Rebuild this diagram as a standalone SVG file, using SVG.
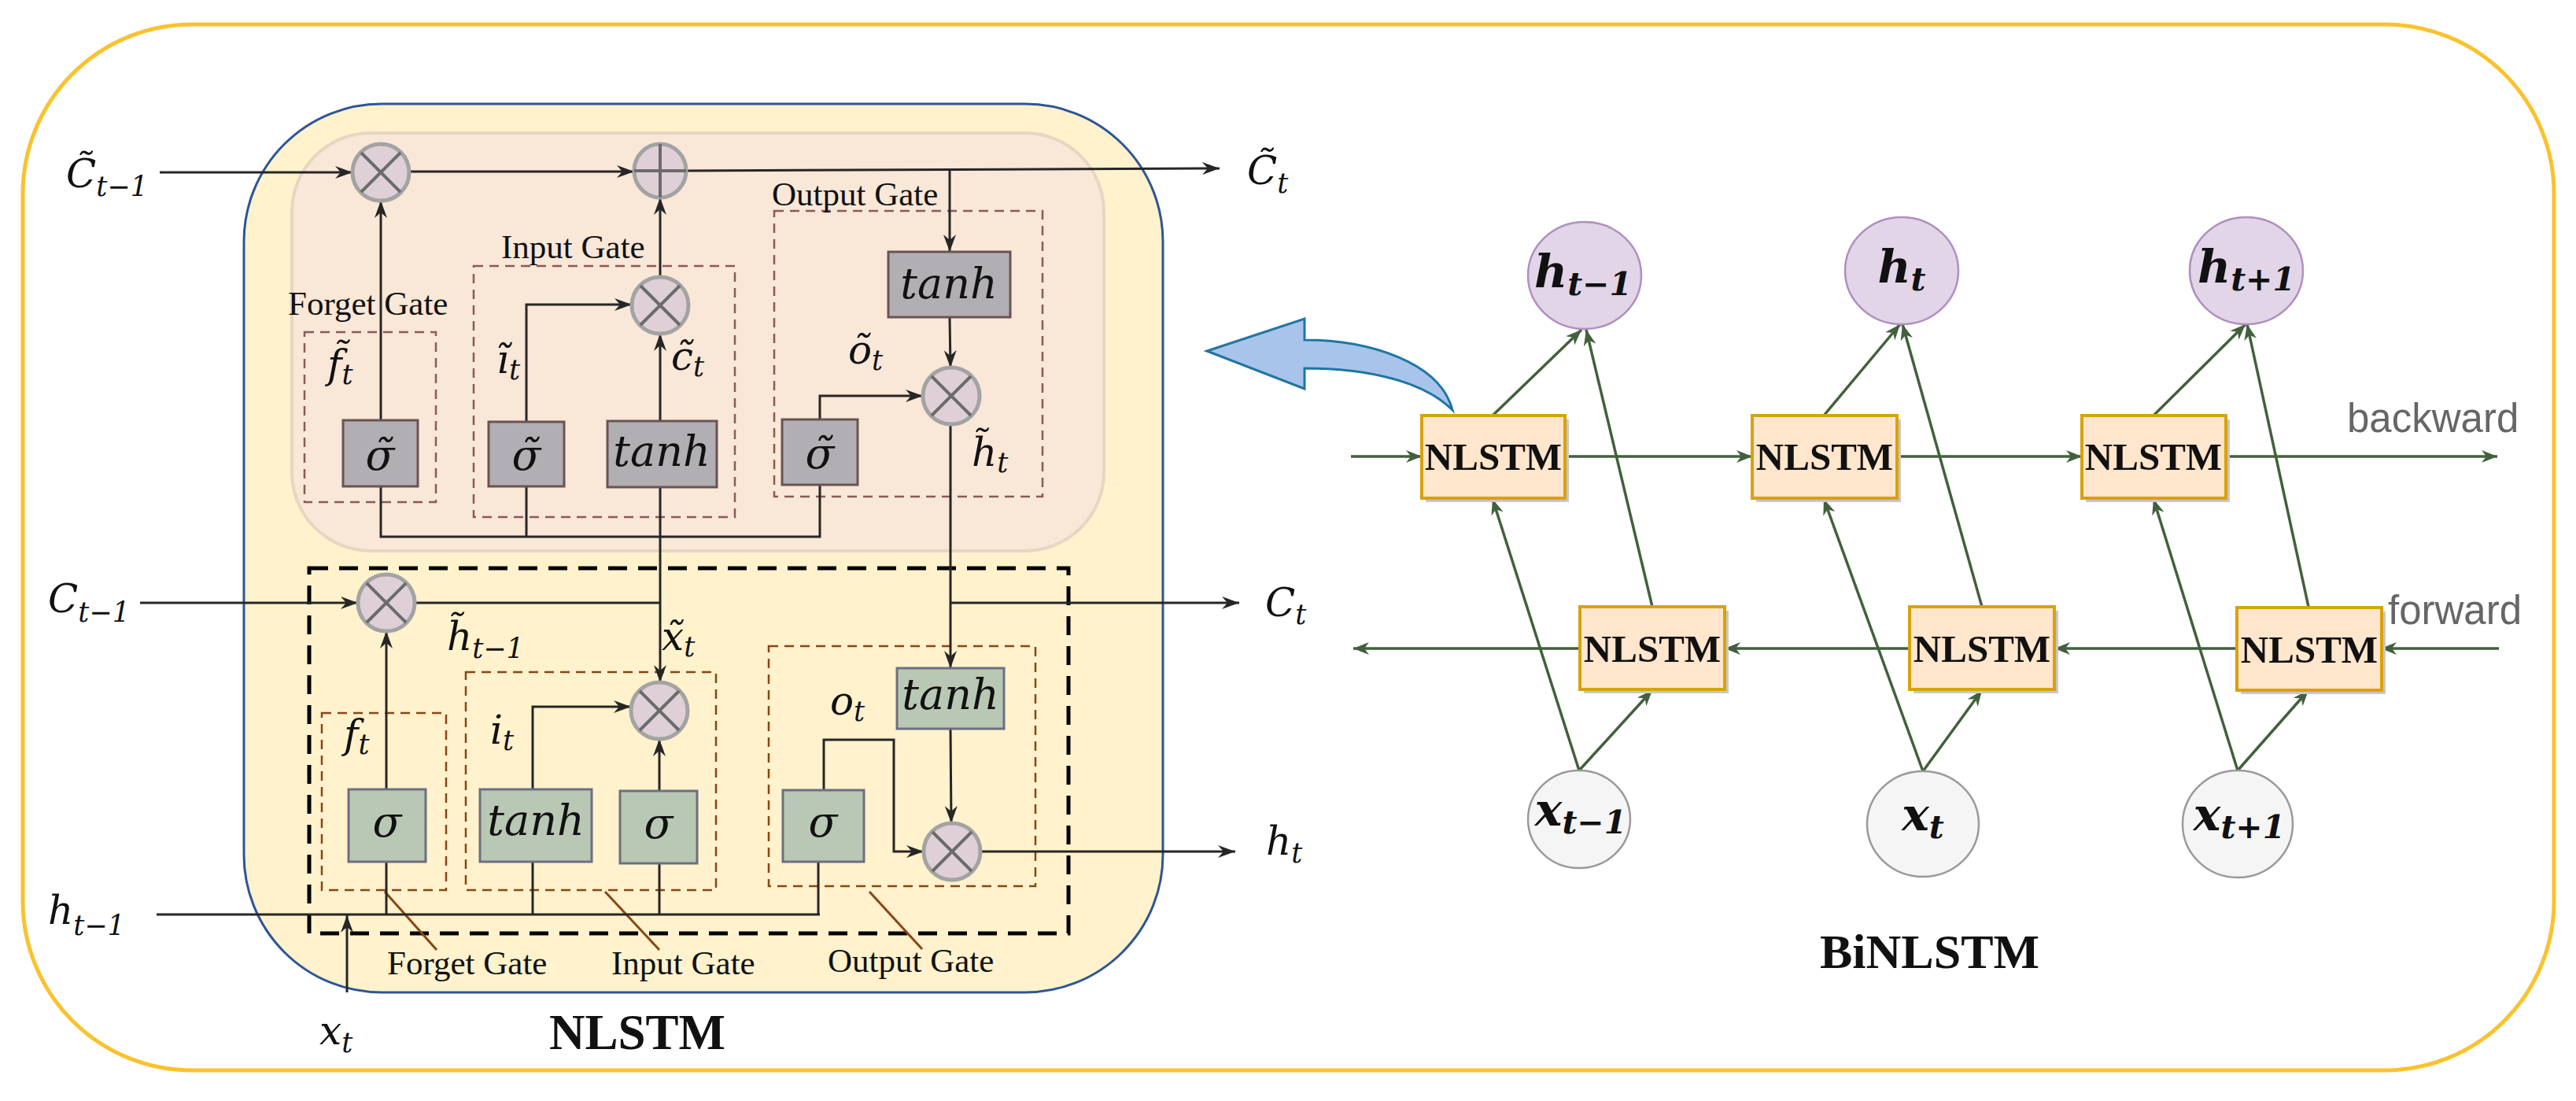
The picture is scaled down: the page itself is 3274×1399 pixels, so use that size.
<svg xmlns="http://www.w3.org/2000/svg" width="3274" height="1399" viewBox="0 0 3274 1399">
<style>
.m{font-family:"DejaVu Serif",serif;font-style:italic;font-size:50px;fill:#111}
.s{font-size:35px}
.bx{font-size:54px}
.g{font-family:"Liberation Serif",serif;font-size:43px;fill:#111}
.ttl{font-family:"Liberation Serif",serif;font-weight:bold;fill:#111}
.ln{stroke:#262626;stroke-width:3;fill:none}
.gb{fill:#b1afb4;stroke:#6b5353;stroke-width:3}
.gr{fill:#b8c8b4;stroke:#6e6e80;stroke-width:3}
.du{stroke:#8b5a5a;stroke-width:2.5;stroke-dasharray:12 8;fill:none}
.dl{stroke:#8b4513;stroke-width:2.5;stroke-dasharray:12 8;fill:none}
.lead{stroke:#8b4513;stroke-width:3}
.gl{stroke:#42603c;stroke-width:3.5;fill:none}
.nb{fill:#ffe6cc;stroke:#d8a20c;stroke-width:4}
.sh{fill:#c8c8c8}
.nt{font-family:"Liberation Serif",serif;font-weight:bold;font-size:49px;fill:#111}
.hc{fill:#e1d5e7;stroke:#b08fc0;stroke-width:2.5}
.xc{fill:#f5f5f5;stroke:#9a9a9a;stroke-width:2.5}
.bm{font-family:"DejaVu Serif",serif;font-style:italic;font-weight:bold;font-size:58px;fill:#111}
.dir{font-family:"Liberation Sans",sans-serif;font-size:51px;fill:#666}
</style>
<defs>
<marker id="ak" viewBox="0 0 22 16" refX="22" refY="8" markerWidth="22" markerHeight="16" markerUnits="userSpaceOnUse" orient="auto">
<path d="M0,0 L22,8 L0,16 L7,8 z" fill="#262626"/>
</marker>
<marker id="ag" viewBox="0 0 20 16" refX="20" refY="8" markerWidth="20" markerHeight="16" markerUnits="userSpaceOnUse" orient="auto">
<path d="M0,0 L20,8 L0,16 L6,8 z" fill="#42603c"/>
</marker>
<g id="mul"><circle r="36" fill="#dfd0d7" stroke="#a3a3a3" stroke-width="5"/><path d="M-25,-25 L25,25 M25,-25 L-25,25" stroke="#6b6b6b" stroke-width="4"/></g>
<g id="add"><ellipse rx="33" ry="34" fill="#dfd0d7" stroke="#a3a3a3" stroke-width="5"/><path d="M-33,0 L33,0 M0,-34 L0,34" stroke="#6b6b6b" stroke-width="4"/></g>
</defs>

<g id="frame">
<rect x="29" y="31" width="3217" height="1329" rx="215" ry="215" fill="#ffffff" stroke="#fbc22e" stroke-width="5"/>
</g>

<g id="nlstm-cell">
<rect x="310" y="132" width="1168" height="1129" rx="175" ry="175" fill="#fff2cc" stroke="#2e5597" stroke-width="3"/>
<rect x="371" y="169" width="1032" height="531" rx="100" ry="100" fill="#f9e7d7" stroke="#e6d6c2" stroke-width="4"/>
<rect x="393" y="722" width="965" height="464" fill="none" stroke="#000" stroke-width="5" stroke-dasharray="24 14"/>
</g>

<g id="upper-gates">
<rect class="du" x="387" y="422" width="167" height="216"/>
<rect class="du" x="602" y="338" width="332" height="319"/>
<rect class="du" x="984" y="268" width="341" height="363"/>
<text class="g" x="366" y="400">Forget Gate</text>
<text class="g" x="637" y="328">Input Gate</text>
<text class="g" x="981" y="261">Output Gate</text>
</g>

<g id="lower-gates">
<rect class="dl" x="409" y="906" width="158" height="225"/>
<rect class="dl" x="592" y="854" width="318" height="277"/>
<rect class="dl" x="977" y="821" width="339" height="305"/>
<line class="lead" x1="489" y1="1133" x2="555" y2="1207"/>
<line class="lead" x1="769" y1="1133" x2="838" y2="1207"/>
<line class="lead" x1="1105" y1="1133" x2="1172" y2="1206"/>
<text class="g" x="492" y="1238">Forget Gate</text>
<text class="g" x="777" y="1238">Input Gate</text>
<text class="g" x="1052" y="1235">Output Gate</text>
</g>

<g id="cell-connectors">
<line class="ln" x1="203" y1="219" x2="448" y2="219" marker-end="url(#ak)"/>
<line class="ln" x1="520" y1="218" x2="806" y2="218" marker-end="url(#ak)"/>
<line class="ln" x1="872" y1="217" x2="1550" y2="214" marker-end="url(#ak)"/>
<line class="ln" x1="1207" y1="216" x2="1207" y2="320" marker-end="url(#ak)"/>
<line class="ln" x1="484" y1="534" x2="484" y2="255" marker-end="url(#ak)"/>
<polyline class="ln" points="669,536 669,387 803,387" marker-end="url(#ak)"/>
<line class="ln" x1="839" y1="535" x2="839" y2="424" marker-end="url(#ak)"/>
<line class="ln" x1="839" y1="352" x2="839" y2="251" marker-end="url(#ak)"/>
<line class="ln" x1="1207" y1="403" x2="1208" y2="467" marker-end="url(#ak)"/>
<polyline class="ln" points="1042,533 1042,503 1173,503" marker-end="url(#ak)"/>
<polyline class="ln" points="484,618 484,682 1042,682 1042,616"/>
<line class="ln" x1="669" y1="618" x2="669" y2="682"/>
<line class="ln" x1="839" y1="619" x2="839" y2="867" marker-end="url(#ak)"/>
<line class="ln" x1="1208" y1="539" x2="1208" y2="849" marker-end="url(#ak)"/>
<line class="ln" x1="1208" y1="766" x2="1575" y2="766" marker-end="url(#ak)"/>
<line class="ln" x1="178" y1="766" x2="455" y2="766" marker-end="url(#ak)"/>
<line class="ln" x1="527" y1="766" x2="839" y2="766"/>
<line class="ln" x1="491" y1="1003" x2="491" y2="802" marker-end="url(#ak)"/>
<polyline class="ln" points="677,1003 677,898 802,898" marker-end="url(#ak)"/>
<line class="ln" x1="838" y1="1005" x2="838" y2="939" marker-end="url(#ak)"/>
<line class="ln" x1="1208" y1="926" x2="1209" y2="1046" marker-end="url(#ak)"/>
<polyline class="ln" points="1047,1004 1047,940 1136,940 1136,1082 1174,1082" marker-end="url(#ak)"/>
<line class="ln" x1="1246" y1="1082" x2="1570" y2="1082" marker-end="url(#ak)"/>
<line class="ln" x1="199" y1="1162" x2="1042" y2="1162"/>
<line class="ln" x1="491" y1="1095" x2="491" y2="1162"/>
<line class="ln" x1="677" y1="1095" x2="677" y2="1162"/>
<line class="ln" x1="838" y1="1097" x2="838" y2="1162"/>
<line class="ln" x1="1040" y1="1095" x2="1040" y2="1162"/>
<line class="ln" x1="441" y1="1261" x2="441" y2="1163" marker-end="url(#ak)"/>
</g>

<g id="ops">
<use href="#mul" x="484" y="219"/>
<use href="#add" x="839" y="217"/>
<use href="#mul" x="839" y="388"/>
<use href="#mul" x="1209" y="503"/>
<use href="#mul" x="491" y="766"/>
<use href="#mul" x="838" y="903"/>
<use href="#mul" x="1210" y="1082"/>
</g>

<g id="upper-boxes">
<rect class="gb" x="436" y="534" width="95" height="84"/>
<text class="m bx" x="483" y="597" text-anchor="middle">σ&#x303;</text>
<rect class="gb" x="621" y="536" width="96" height="82"/>
<text class="m bx" x="669" y="597" text-anchor="middle">σ&#x303;</text>
<rect class="gb" x="772" y="535" width="139" height="84"/>
<text class="m bx" x="841" y="592" text-anchor="middle">tanh</text>
<rect class="gb" x="994" y="533" width="96" height="83"/>
<text class="m bx" x="1042" y="595" text-anchor="middle">σ&#x303;</text>
<rect class="gb" x="1129" y="320" width="155" height="83"/>
<text class="m bx" x="1206" y="379" text-anchor="middle">tanh</text>
</g>

<g id="lower-boxes">
<rect class="gr" x="443" y="1003" width="98" height="92"/>
<text class="m bx" x="492" y="1063" text-anchor="middle">σ</text>
<rect class="gr" x="610" y="1003" width="142" height="92"/>
<text class="m bx" x="681" y="1061" text-anchor="middle">tanh</text>
<rect class="gr" x="788" y="1005" width="98" height="92"/>
<text class="m bx" x="837" y="1065" text-anchor="middle">σ</text>
<rect class="gr" x="995" y="1004" width="103" height="91"/>
<text class="m bx" x="1046" y="1063" text-anchor="middle">σ</text>
<rect class="gr" x="1140" y="849" width="136" height="77"/>
<text class="m bx" x="1208" y="901" text-anchor="middle">tanh</text>
</g>

<g id="cell-labels">
<text class="m" x="84" y="238">C&#x303;<tspan class="s" dy="11">t−1</tspan></text>
<text class="m" x="1585" y="234">C&#x303;<tspan class="s" dy="11">t</tspan></text>
<text class="m" x="416" y="480">f&#x303;<tspan class="s" dy="8">t</tspan></text>
<text class="m" x="631" y="474">&#x129;<tspan class="s" dy="8">t</tspan></text>
<text class="m" x="853" y="470">c&#x303;<tspan class="s" dy="8">t</tspan></text>
<text class="m" x="1078" y="462">õ<tspan class="s" dy="8">t</tspan></text>
<text class="m" x="1235" y="592">h&#x303;<tspan class="s" dy="8">t</tspan></text>
<text class="m" x="61" y="778">C<tspan class="s" dy="12">t−1</tspan></text>
<text class="m" x="1608" y="783">C<tspan class="s" dy="10">t</tspan></text>
<text class="m" x="568" y="826">h&#x303;<tspan class="s" dy="10">t−1</tspan></text>
<text class="m" x="841" y="826">x&#x303;<tspan class="s" dy="8">t</tspan></text>
<text class="m" x="437" y="950">f<tspan class="s" dy="8">t</tspan></text>
<text class="m" x="623" y="945">i<tspan class="s" dy="8">t</tspan></text>
<text class="m" x="1055" y="908">o<tspan class="s" dy="8">t</tspan></text>
<text class="m" x="1609" y="1086">h<tspan class="s" dy="10">t</tspan></text>
<text class="m" x="61" y="1174">h<tspan class="s" dy="14">t−1</tspan></text>
<text class="m" x="406" y="1327">x<tspan class="s" dy="10">t</tspan></text>
<text class="ttl" x="698" y="1333" font-size="63">NLSTM</text>
</g>

<g id="pointer-arrow">
<path d="M1534,446 L1658,405 L1658,432 C1740,432 1830,460 1846,521 C1810,485 1740,468 1658,468 L1658,494 Z" fill="#a9c4eb" stroke="#1f76a3" stroke-width="3" stroke-linejoin="miter"/>
</g>

<g id="binlstm-connectors">
<line class="gl" x1="1717" y1="580" x2="1807" y2="580" marker-end="url(#ag)"/>
<line class="gl" x1="1989" y1="580" x2="2227" y2="580" marker-end="url(#ag)"/>
<line class="gl" x1="2411" y1="580" x2="2646" y2="580" marker-end="url(#ag)"/>
<line class="gl" x1="2829" y1="580" x2="3174" y2="580" marker-end="url(#ag)"/>
<line class="gl" x1="3176" y1="824" x2="3026" y2="824" marker-end="url(#ag)"/>
<line class="gl" x1="2843" y1="824" x2="2611" y2="824" marker-end="url(#ag)"/>
<line class="gl" x1="2427" y1="824" x2="2192" y2="824" marker-end="url(#ag)"/>
<line class="gl" x1="2008" y1="824" x2="1720" y2="824" marker-end="url(#ag)"/>
<line class="gl" x1="1897" y1="528" x2="2010" y2="419" marker-end="url(#ag)"/>
<line class="gl" x1="2100" y1="771" x2="2016" y2="419" marker-end="url(#ag)"/>
<line class="gl" x1="2318" y1="528" x2="2415" y2="412" marker-end="url(#ag)"/>
<line class="gl" x1="2519" y1="771" x2="2418" y2="412" marker-end="url(#ag)"/>
<line class="gl" x1="2737" y1="528" x2="2854" y2="412" marker-end="url(#ag)"/>
<line class="gl" x1="2934" y1="771" x2="2856" y2="412" marker-end="url(#ag)"/>
<line class="gl" x1="2007" y1="979" x2="1897" y2="634" marker-end="url(#ag)"/>
<line class="gl" x1="2007" y1="979" x2="2100" y2="877" marker-end="url(#ag)"/>
<line class="gl" x1="2444" y1="980" x2="2318" y2="634" marker-end="url(#ag)"/>
<line class="gl" x1="2444" y1="980" x2="2519" y2="877" marker-end="url(#ag)"/>
<line class="gl" x1="2844" y1="979" x2="2737" y2="634" marker-end="url(#ag)"/>
<line class="gl" x1="2844" y1="979" x2="2934" y2="877" marker-end="url(#ag)"/>
</g>

<g id="bw1"><rect class="sh" x="1812" y="533" width="182" height="105"/><rect class="nb" x="1807" y="528" width="182" height="105"/><text class="nt" x="1898" y="597" text-anchor="middle">NLSTM</text></g>
<g id="bw2"><rect class="sh" x="2232" y="533" width="184" height="105"/><rect class="nb" x="2227" y="528" width="184" height="105"/><text class="nt" x="2319" y="597" text-anchor="middle">NLSTM</text></g>
<g id="bw3"><rect class="sh" x="2651" y="533" width="183" height="105"/><rect class="nb" x="2646" y="528" width="183" height="105"/><text class="nt" x="2737" y="597" text-anchor="middle">NLSTM</text></g>
<g id="fw1"><rect class="sh" x="2013" y="776" width="184" height="105"/><rect class="nb" x="2008" y="771" width="184" height="105"/><text class="nt" x="2100" y="841" text-anchor="middle">NLSTM</text></g>
<g id="fw2"><rect class="sh" x="2432" y="776" width="184" height="105"/><rect class="nb" x="2427" y="771" width="184" height="105"/><text class="nt" x="2519" y="841" text-anchor="middle">NLSTM</text></g>
<g id="fw3"><rect class="sh" x="2848" y="777" width="184" height="105"/><rect class="nb" x="2843" y="772" width="184" height="105"/><text class="nt" x="2935" y="842" text-anchor="middle">NLSTM</text></g>

<g id="h-prev"><ellipse class="hc" cx="2014" cy="350" rx="72" ry="68"/><text class="bm" x="2012" y="365" text-anchor="middle">h<tspan font-size="41" dy="10">t−1</tspan></text></g>
<g id="h-cur"><ellipse class="hc" cx="2417" cy="344" rx="72" ry="68"/><text class="bm" x="2417" y="359" text-anchor="middle">h<tspan font-size="41" dy="10">t</tspan></text></g>
<g id="h-next"><ellipse class="hc" cx="2855" cy="344" rx="72" ry="68"/><text class="bm" x="2855" y="359" text-anchor="middle">h<tspan font-size="41" dy="10">t+1</tspan></text></g>
<g id="x-prev"><ellipse class="xc" cx="2007" cy="1041" rx="65" ry="62"/><text class="bm" x="2009" y="1049" text-anchor="middle">x<tspan font-size="41" dy="10">t−1</tspan></text></g>
<g id="x-cur"><ellipse class="xc" cx="2444" cy="1047" rx="71" ry="67"/><text class="bm" x="2444" y="1055" text-anchor="middle">x<tspan font-size="41" dy="10">t</tspan></text></g>
<g id="x-next"><ellipse class="xc" cx="2844" cy="1047" rx="70" ry="68"/><text class="bm" x="2846" y="1055" text-anchor="middle">x<tspan font-size="41" dy="10">t+1</tspan></text></g>

<g id="binlstm-labels">
<text class="dir" x="2983" y="549">backward</text>
<text class="dir" x="3035" y="793">forward</text>
<text class="ttl" x="2313" y="1230" font-size="62">BiNLSTM</text>
</g>
</svg>
